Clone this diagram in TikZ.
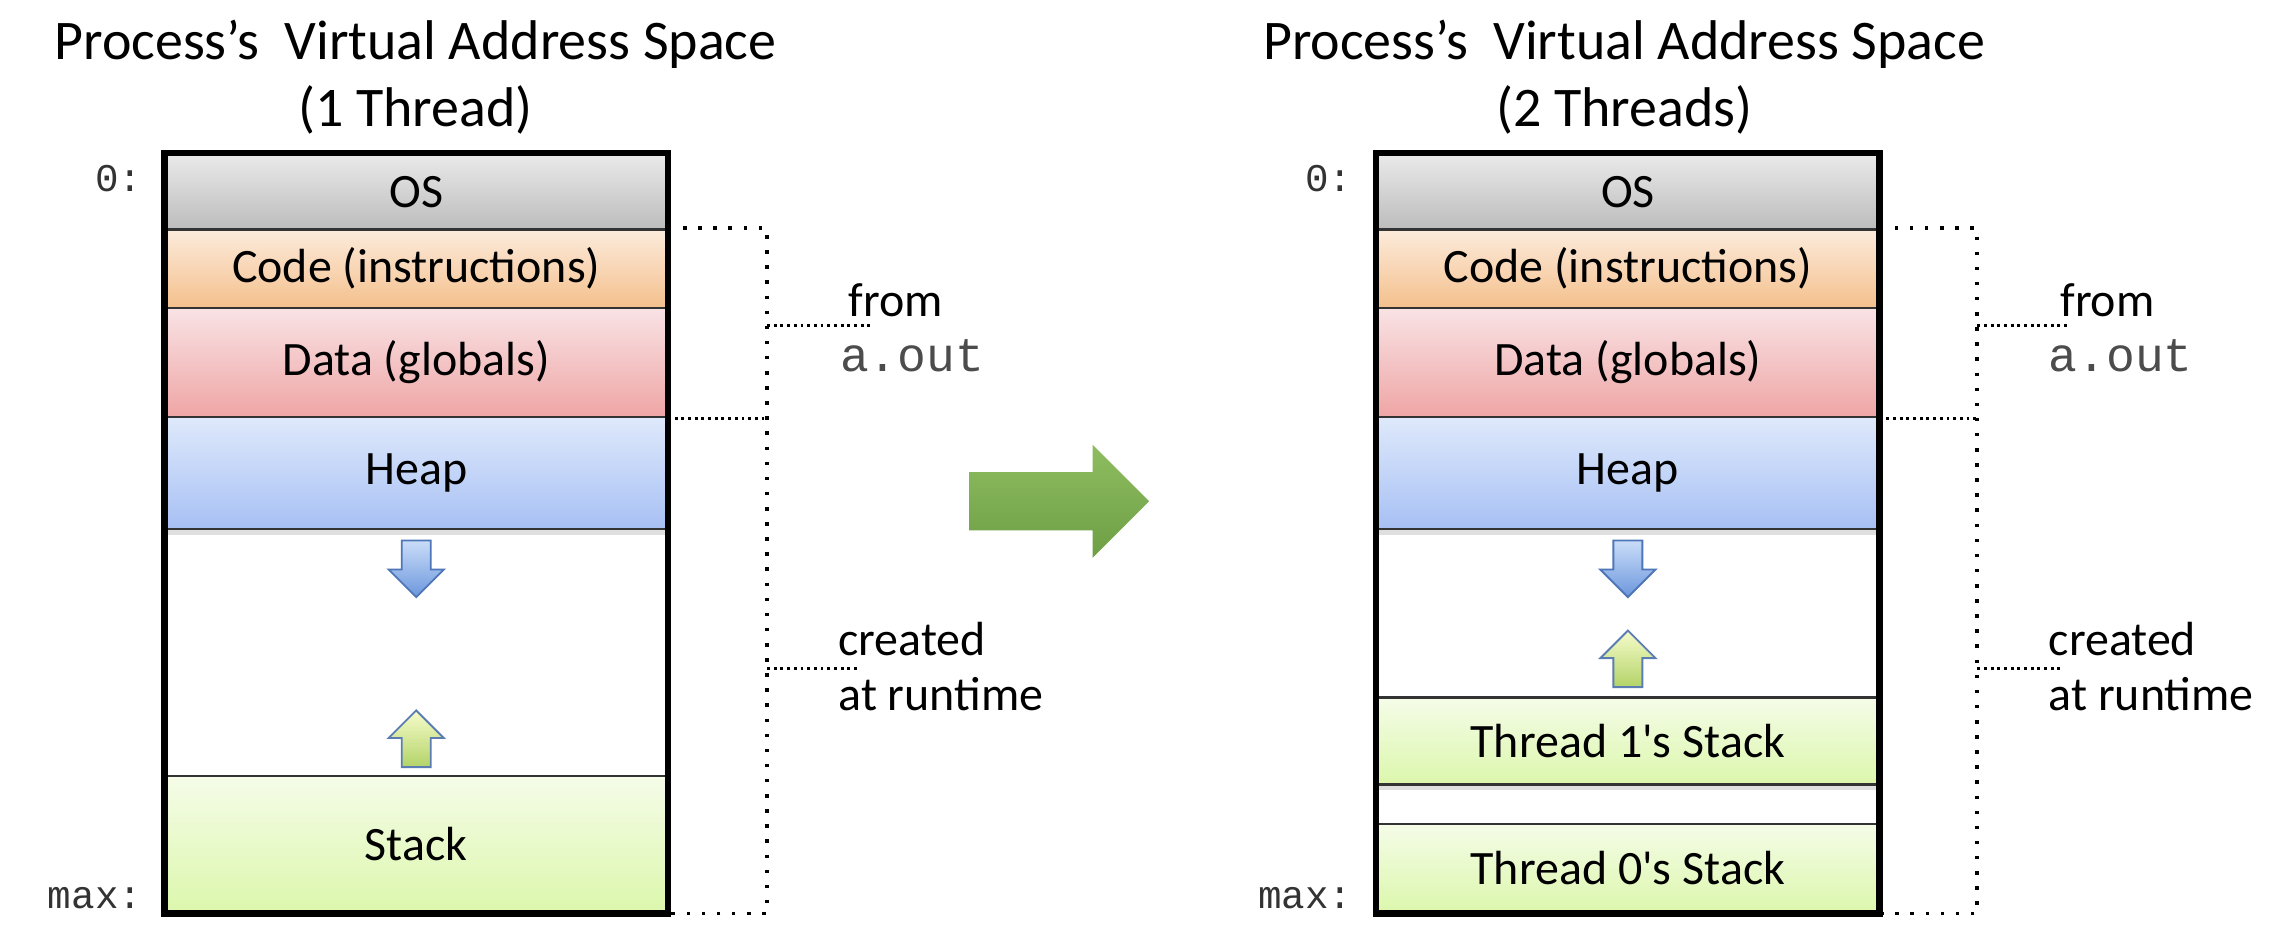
\documentclass[tikz,border=0pt]{standalone}
\usepackage{fontspec}
\setmainfont{Carlito}
\newfontfamily\monofont{Liberation Mono}
\usetikzlibrary{shadows}
\definecolor{osT}{HTML}{EAEAEA}
\definecolor{osB}{HTML}{BCBCBC}
\definecolor{codeT}{HTML}{FCEBDC}
\definecolor{codeB}{HTML}{F4C08C}
\definecolor{dataT}{HTML}{F9E3E5}
\definecolor{dataB}{HTML}{EFA5A5}
\definecolor{heapT}{HTML}{DFE9FB}
\definecolor{heapB}{HTML}{A7C0F4}
\definecolor{stackT}{HTML}{F5FCE8}
\definecolor{stackB}{HTML}{DCF7AC}
\definecolor{bigT}{HTML}{8EBC61}
\definecolor{bigB}{HTML}{6E9F44}
\definecolor{dnT}{HTML}{CADDF8}
\definecolor{dnB}{HTML}{6C97DD}
\definecolor{dnL}{HTML}{4F76B8}
\definecolor{upT}{HTML}{F6FCCB}
\definecolor{upB}{HTML}{B3D368}
\definecolor{upL}{HTML}{5B7DB3}
\begin{document}
\begin{tikzpicture}[x=1bp,y=-1bp,
  seg/.style={draw=black!80, line width=1.6bp, inner sep=0pt, minimum width=345bp,
    font=\fontsize{33bp}{36bp}\selectfont},
  osc/.style={top color=osT, bottom color=osB},
  codec/.style={top color=codeT, bottom color=codeB},
  datac/.style={top color=dataT, bottom color=dataB},
  heapc/.style={top color=heapT, bottom color=heapB},
  stackc/.style={top color=stackT, bottom color=stackB},
  shadowed/.style={drop shadow={opacity=0.25, shadow xshift=0bp, shadow yshift=-4bp}},
  frame/.style={draw=black, line width=4.5bp},
  title/.style={font=\fontsize{38.5bp}{46bp}\selectfont, anchor=base, inner sep=0pt},
  side/.style={font=\fontsize{33bp}{36bp}\selectfont, anchor=base west, inner sep=0pt},
  mono/.style={font=\monofont\fontsize{33bp}{36bp}\selectfont, text=black!70, anchor=base west, inner sep=0pt},
  addr/.style={font=\monofont\fontsize{27bp}{30bp}\selectfont, text=black!80, anchor=base east, inner sep=0pt},
  bigdots/.style={draw=black, line width=2.6bp, dash pattern=on 2.4bp off 8bp},
  finedots/.style={draw=black, line width=2bp, dash pattern=on 2bp off 2.6bp},
  downarr/.pic={\shade[top color=dnT, bottom color=dnB, draw=dnL, line width=1.3bp]
    (-10,0) -- (10,0) -- (10,20) -- (19,20) -- (0,39) -- (-19,20) -- (-10,20) -- cycle;},
  uparr/.pic={\shade[top color=upT, bottom color=upB, draw=upL, line width=1.3bp]
    (0,0) -- (19,19) -- (10,19) -- (10,39) -- (-10,39) -- (-10,19) -- (-19,19) -- cycle;},
]
\fill[white] (0,0) rectangle (1568,647);
\useasboundingbox (0,0) rectangle (1568,647);

% ---------- titles ----------
\node[title] (L1) at (286,41) {Process’s\ \ Virtual Address Space};
\node[title] (L1b) at (286,87) {(1 Thread)};
\node[title] (L2) at (1118,41) {Process’s\ \ Virtual Address Space};
\node[title] (L2b) at (1118,87) {(2 Threads)};

% ---------- left box ----------
\node[seg, minimum height=170bp] (empty1) at (286.5,449) {};
\node[seg, osc, minimum height=52bp] (os1) at (286.5,132) {OS};
\node[seg, codec, minimum height=54bp] (code1) at (286.5,185) {Code (instructions)};
\node[seg, datac, minimum height=75bp] (data1) at (286.5,249.5) {Data (globals)};
\node[seg, heapc, shadowed, minimum height=77bp] (heap1) at (286.5,325.5) {Heap};
\node[seg, stackc, minimum height=94bp] (stack1) at (286.5,581) {Stack};
\pic at (286.5,372) {downarr};
\pic at (286.5,489) {uparr};
\draw[frame] (os1.north west) rectangle (stack1.south east);
\node[addr] (z1) at (98,132) {0:};
\node[addr] (m1) at (98,625) {max:};

% ---------- right box ----------
\node[seg, minimum height=116bp] (empty2) at (1120.5,422) {};
\node[seg, minimum height=27bp] (gap2) at (1120.5,553.5) {};
\node[seg, osc, minimum height=52bp] (os2) at (1120.5,132) {OS};
\node[seg, codec, minimum height=54bp] (code2) at (1120.5,185) {Code (instructions)};
\node[seg, datac, minimum height=75bp] (data2) at (1120.5,249.5) {Data (globals)};
\node[seg, heapc, shadowed, minimum height=77bp] (heap2) at (1120.5,325.5) {Heap};
\node[seg, stackc, shadowed, minimum height=60bp] (th1) at (1120.5,510) {Thread 1\textquotesingle s Stack};
\node[seg, stackc, minimum height=61bp] (th0) at (1120.5,597.5) {Thread 0\textquotesingle s Stack};
\pic at (1120.5,372) {downarr};
\pic at (1120.5,434) {uparr};
\draw[frame] (os2.north west) rectangle (th0.south east);
\node[addr] (z2) at (931,132) {0:};
\node[addr] (m2) at (931,625) {max:};

% ---------- big arrow ----------
\shade[top color=bigT, bottom color=bigB]
  (667,325) -- (752,325) -- (752,306) -- (791,345) -- (752,384) -- (752,365) -- (667,365) -- cycle;

% ---------- left brackets ----------
\coordinate (br1) at (528,0);
\draw[bigdots] (code1.north east) -- (code1.north east -| br1) -- (stack1.south east -| br1) -- (stack1.south east);
\draw[finedots] (data1.south east) -- (data1.south east -| br1);
\node[side] (from1) at (584,218) {from};
\node[mono] (aout1) at (578,256) {a.out};
\coordinate (fb1) at (599,224);
\draw[finedots] (fb1 -| br1) -- (fb1);
\node[side] (cr1) at (577,451) {created};
\node[side] (rt1) at (577,489) {at runtime};
\coordinate (cb1) at (591,460);
\draw[finedots] (cb1 -| br1) -- (cb1);

% ---------- right brackets ----------
\coordinate (br2) at (1361,0);
\draw[bigdots] (code2.north east) -- (code2.north east -| br2) -- (th0.south east -| br2) -- (th0.south east);
\draw[finedots] (data2.south east) -- (data2.south east -| br2);
\node[side] (from2) at (1418,218) {from};
\node[mono] (aout2) at (1410,256) {a.out};
\coordinate (fb2) at (1425,224);
\draw[finedots] (fb2 -| br2) -- (fb2);
\node[side] (cr2) at (1410,451) {created};
\node[side] (rt2) at (1410,489) {at runtime};
\coordinate (cb2) at (1419,460);
\draw[finedots] (cb2 -| br2) -- (cb2);
\end{tikzpicture}
\end{document}
